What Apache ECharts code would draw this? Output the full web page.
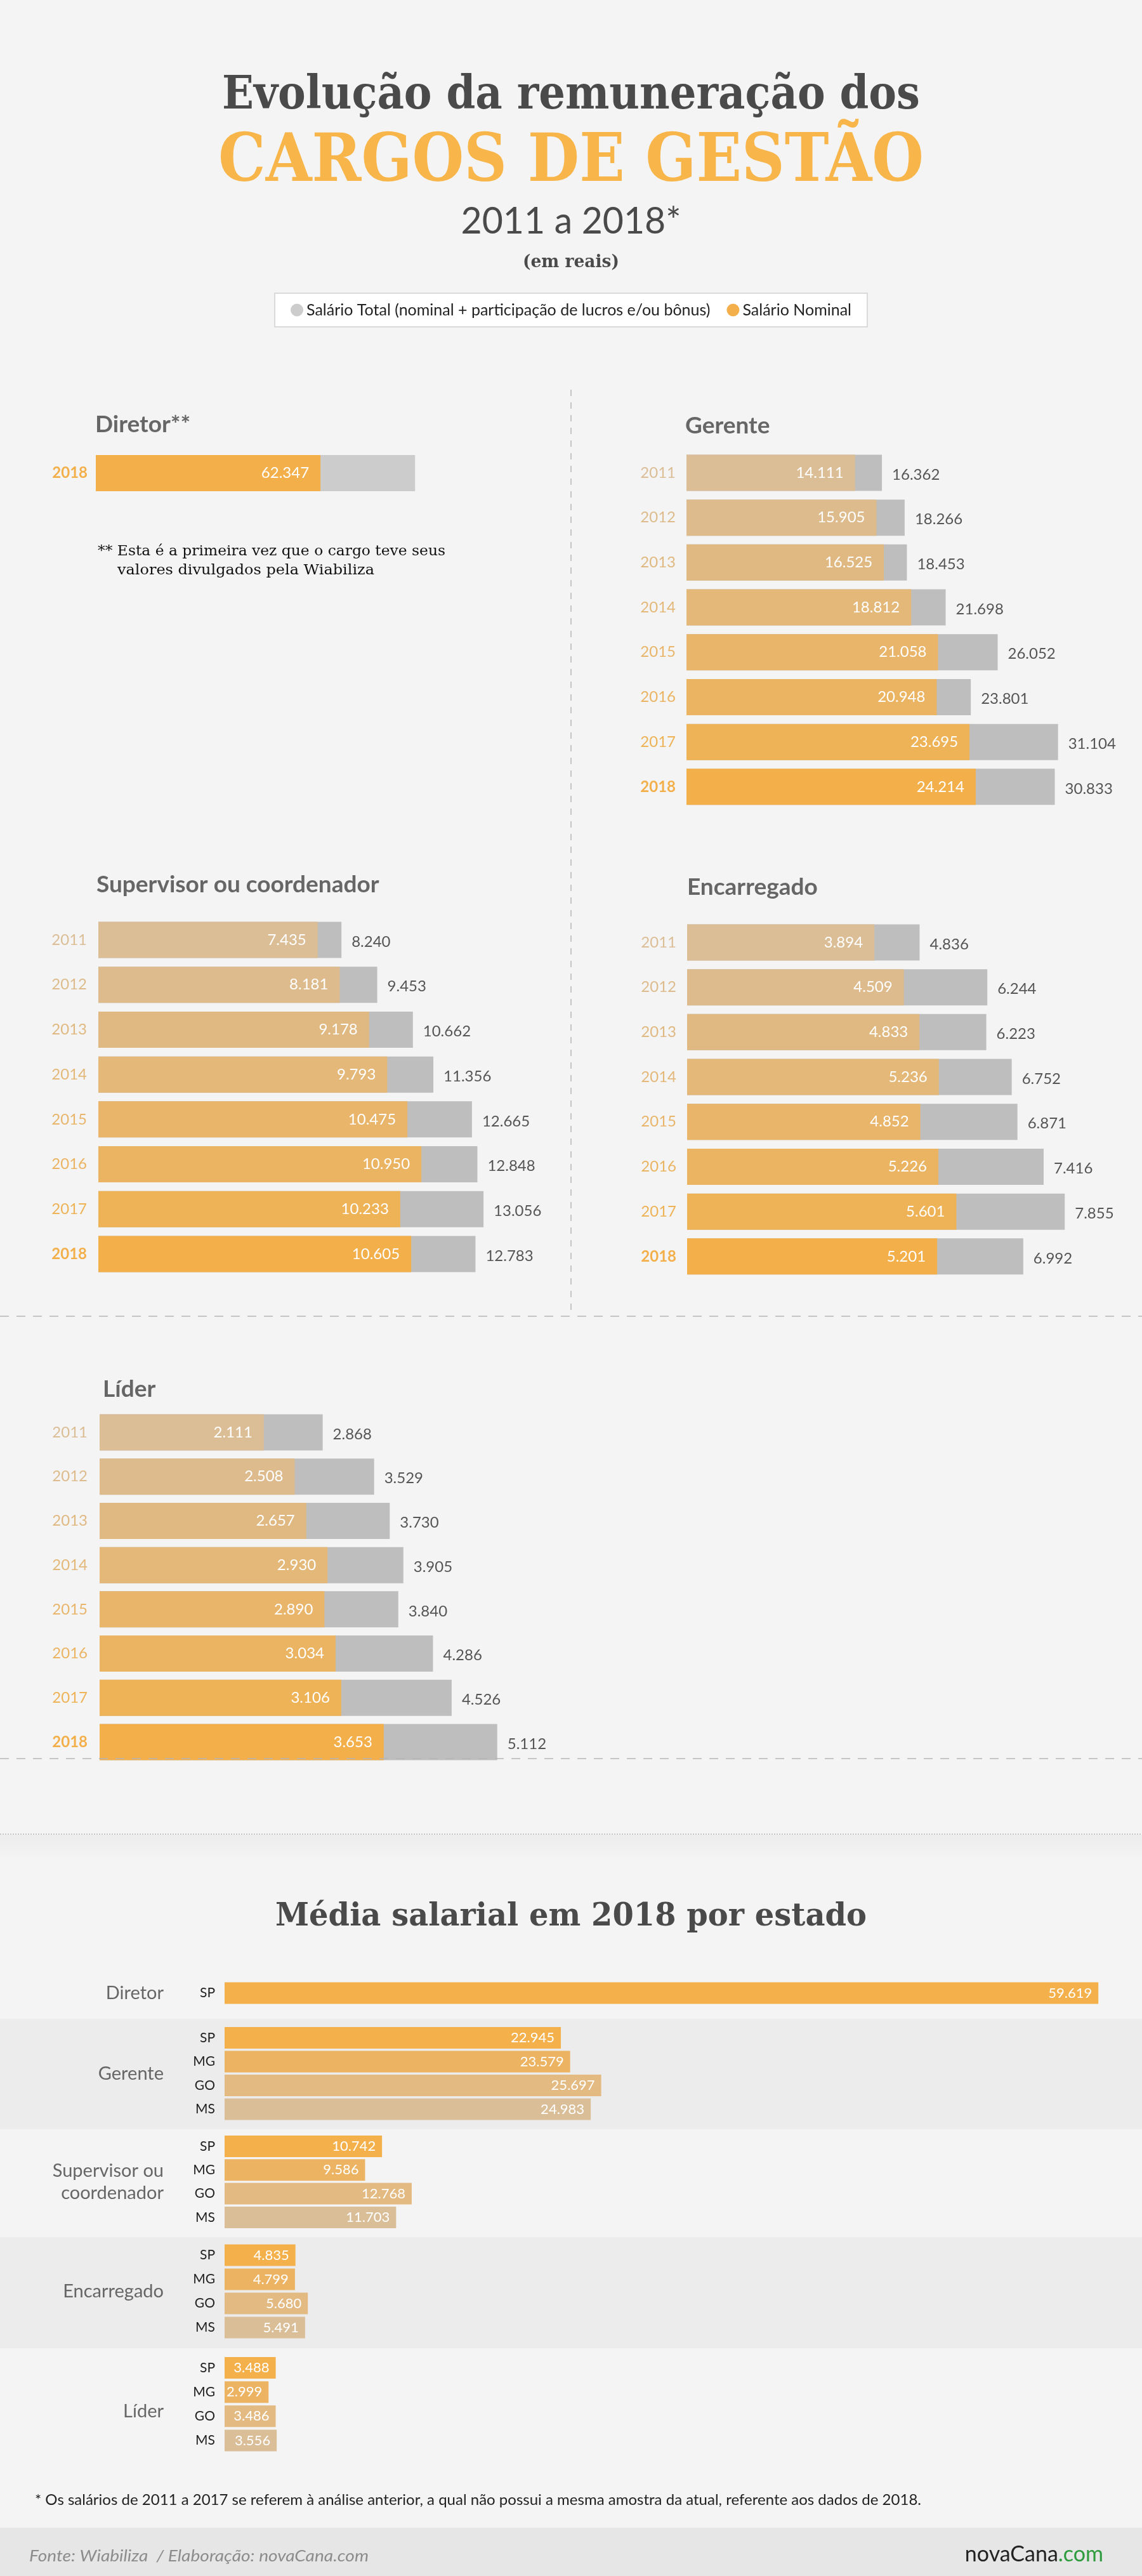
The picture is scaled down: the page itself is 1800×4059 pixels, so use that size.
<!DOCTYPE html>
<html><head><meta charset="utf-8">
<script src="https://cdn.jsdelivr.net/npm/echarts@6/dist/echarts.min.js"></script>
<style>html,body{margin:0;padding:0;background:#f4f4f4}#c{width:1800px;height:4059px}</style>
</head><body><div id="c"></div><script>
// ---------------- DATA ----------------
const years = ['2011','2012','2013','2014','2015','2016','2017','2018'];
const diretorYears = ['2018'];
const diretorNominal = [62347];
const diretorTotal = [88600]; // not labelled in the reference
const gerenteNominal = [14111,15905,16525,18812,21058,20948,23695,24214];
const gerenteTotal   = [16362,18266,18453,21698,26052,23801,31104,30833];
const supervisorNominal = [7435,8181,9178,9793,10475,10950,10233,10605];
const supervisorTotal   = [8240,9453,10662,11356,12665,12848,13056,12783];
const encarregadoNominal = [3894,4509,4833,5236,4852,5226,5601,5201];
const encarregadoTotal   = [4836,6244,6223,6752,6871,7416,7855,6992];
const liderNominal = [2111,2508,2657,2930,2890,3034,3106,3653];
const liderTotal   = [2868,3529,3730,3905,3840,4286,4526,5112];

const states = ['SP','MG','GO','MS'];
const estadoDiretor = [59619];
const estadoGerente = [22945,23579,25697,24983];
const estadoSupervisor = [10742,9586,12768,11703];
const estadoEncarregado = [4835,4799,5680,5491];
const estadoLider = [3488,2999,3486,3556];

const totalName = 'Salário Total (nominal + participação de lucros e/ou bônus)';
const nominalName = 'Salário Nominal';

// ---------------- STYLE ----------------
const yearColors = ['#DBBD96','#DDBB8C','#E0B982','#E3B879','#E8B56B','#EAB462','#EEB257','#F3AF4A'];
const stateColors = {SP:'#F4B04A', MG:'#ECB462', GO:'#E2BA82', MS:'#D9BE98'};
const SANS = 'Lato, "Open Sans", sans-serif';
const SLAB = '"DejaVu Serif", serif';
const fmt = v => String(Math.round(v)).replace(/\B(?=(\d{3})+(?!\d))/g, '.');

const mctx = document.createElement('canvas').getContext('2d');
function fit(text, font, target){ mctx.font = font; return target / mctx.measureText(text).width; }

const grids = [], xAxes = [], yAxes = [], series = [];
const yearRich = {};
years.forEach((y,i)=>{ yearRich['y'+y] = {color: yearColors[i], fontSize: 24, fontFamily: SANS, fontWeight: y==='2018' ? 'bold' : 'normal'}; });

function panel(cats, nominal, total, g, max, opts){
  const k = grids.length;
  grids.push({left:g.left, top:g.top, width:g.width, height:g.height, containLabel:false, outerBoundsMode:'none'});
  xAxes.push({type:'value', gridIndex:k, min:0, max:max, show:false});
  yAxes.push({type:'category', gridIndex:k, data:cats, inverse:true,
    axisLine:{show:false}, axisTick:{show:false}, splitLine:{show:false},
    axisLabel:{margin:g.margin, fontSize:24, fontFamily:SANS, formatter:v=>'{y'+v+'|'+v+'}', rich:yearRich}});
  series.push({type:'bar', name: totalName, xAxisIndex:k, yAxisIndex:k, barWidth:g.bar, barGap:'-100%',
    itemStyle:{color: opts.gray || '#BEBEBE'}, silent:true, animation:false,
    label:{show: !opts.noTotalLabel, position:'right', distance:16, color:'#555', fontSize:24, fontFamily:SANS, formatter:p=>fmt(p.value), offset:[0,3]},
    data: total});
  series.push({type:'bar', name: nominalName, xAxisIndex:k, yAxisIndex:k, barWidth:g.bar, barGap:'-100%',
    itemStyle:{color:'#F3AF4A'}, silent:true, animation:false,
    label:{show:true, position:'insideRight', distance:18, color:'#fff', fontSize:24, fontFamily:SANS, formatter:p=>fmt(p.value)},
    data: nominal.map((v,i)=>({value:v, itemStyle:{color: yearColors[years.indexOf(cats[i])]}}))});
}

panel(diretorYears, diretorNominal, diretorTotal, {left:151, top:710, width:568, height:71, bar:57, margin:13}, 100000, {gray:'#CCCCCC', noTotalLabel:true});
panel(years, gerenteNominal, gerenteTotal, {left:1082, top:709.6, width:659, height:565.6, bar:57, margin:17}, 35000, {});
panel(years, supervisorNominal, supervisorTotal, {left:155, top:1445.7, width:697.5, height:565.6, bar:57, margin:18}, 15000, {});
panel(years, encarregadoNominal, encarregadoTotal, {left:1083, top:1449.6, width:682, height:565.6, bar:57, margin:17}, 9000, {});
panel(years, liderNominal, liderTotal, {left:157, top:2222.2, width:735.6, height:557.6, bar:57, margin:19}, 6000, {});

function statePanel(vals, top, height){
  const k = grids.length;
  const cats = states.slice(0, vals.length);
  grids.push({left:354, top:top, width:1501.5, height:height, containLabel:false, outerBoundsMode:'none'});
  xAxes.push({type:'value', gridIndex:k, min:0, max:65000, show:false});
  yAxes.push({type:'category', gridIndex:k, data:cats, inverse:true,
    axisLine:{show:false}, axisTick:{show:false}, splitLine:{show:false},
    axisLabel:{margin:15, fontSize:21, color:'#222', fontFamily:SANS}});
  series.push({type:'bar', name:'Média salarial 2018', xAxisIndex:k, yAxisIndex:k, barWidth:34, silent:true, animation:false,
    label:{show:true, position:'insideRight', distance:10, color:'#fff', fontSize:22, fontFamily:SANS, formatter:p=>fmt(p.value)},
    data: vals.map((v,i)=>({value:v, itemStyle:{color: stateColors[cats[i]]}}))});
}
statePanel(estadoDiretor, 3121.6, 37.7);
statePanel(estadoGerente, 3192.2, 150);
statePanel(estadoSupervisor, 3363.3, 149.3);
statePanel(estadoEncarregado, 3534.5, 152);
statePanel(estadoLider, 3711.9, 152.7);

// ---------------- GRAPHICS (text & decoration) ----------------
function txt(text, x, y, font, fill, align, extra){
  return Object.assign({type:'text', x:x, y:y, silent:true,
    style:{text:text, font:font, fill:fill, align:align||'left', verticalAlign:'middle', textAlign:align||'left', textVerticalAlign:'middle'}}, extra||{});
}
function fitTxt(text, x, y, font, fill, target, align){
  return txt(text, x, y, font, fill, align || 'center', {scaleX: fit(text, font, target)});
}
const F1 = 'bold 72px ' + SLAB, F2 = 'bold 104px ' + SLAB, F3 = '58px ' + SANS, F4 = 'bold 28px ' + SLAB, F5 = 'bold 50px ' + SLAB;
const dash = '#B5B5B5';
const graphic = [
  {type:'rect', shape:{x:0,y:3181,width:1800,height:174}, style:{fill:'#ECECEC'}, z:-10, silent:true},
  {type:'rect', shape:{x:0,y:3525,width:1800,height:175}, style:{fill:'#ECECEC'}, z:-10, silent:true},
  {type:'rect', shape:{x:0,y:3983,width:1800,height:76}, style:{fill:'#E6E6E6'}, z:-10, silent:true},
  {type:'rect', shape:{x:0,y:2891,width:1800,height:42}, style:{fill:new echarts.graphic.LinearGradient(0,0,0,1,[{offset:0,color:'#EDEDED'},{offset:1,color:'#F4F4F4'}])}, z:-10, silent:true},
  {type:'line', shape:{x1:0,y1:2890,x2:1800,y2:2890}, style:{stroke:'#C8C8C8', lineWidth:2, lineDash:[2,2]}, silent:true},
  {type:'line', shape:{x1:900,y1:614,x2:900,y2:2072}, style:{stroke:dash, lineWidth:1.5, lineDash:[10,10]}, silent:true},
  {type:'line', shape:{x1:0,y1:2074,x2:1800,y2:2074}, style:{stroke:dash, lineWidth:1.5, lineDash:[14,12]}, silent:true},
  {type:'line', shape:{x1:0,y1:2771,x2:1800,y2:2771}, style:{stroke:dash, lineWidth:1.5, lineDash:[14,12]}, silent:true, z:100},

  fitTxt('Evolução da remuneração dos', 900, 152, F1, '#4A4A4A', 1100),
  fitTxt('CARGOS DE GESTÃO', 900, 258, F2, '#F7B54A', 1112),
  fitTxt('2011 a 2018*', 900, 349, F3, '#4A4A4A', 347),
  fitTxt('(em reais)', 900, 414, F4, '#4A4A4A', 152),
  fitTxt('Média salarial em 2018 por estado', 900, 3021, F5, '#4A4A4A', 932),

  txt('Diretor**', 150, 669, 'bold 37px ' + SANS, '#666'),
  txt('Gerente', 1080, 671, 'bold 37px ' + SANS, '#666'),
  txt('Supervisor ou coordenador', 152, 1394, 'bold 37px ' + SANS, '#666'),
  txt('Encarregado', 1083, 1398, 'bold 37px ' + SANS, '#666'),
  txt('Líder', 162, 2189, 'bold 37px ' + SANS, '#666'),

  fitTxt('** Esta é a primeira vez que o cargo teve seus', 154, 869, '22px ' + SLAB, '#111', 548, 'left'),
  fitTxt('valores divulgados pela Wiabiliza', 185, 899, '22px ' + SLAB, '#111', 405, 'left'),

  txt('Diretor', 258, 3141, '29px ' + SANS, '#666', 'right'),
  txt('Gerente', 258, 3268, '29px ' + SANS, '#666', 'right'),
  txt('Supervisor ou', 258, 3421, '29px ' + SANS, '#666', 'right'),
  txt('coordenador', 258, 3456, '29px ' + SANS, '#666', 'right'),
  txt('Encarregado', 258, 3611, '29px ' + SANS, '#666', 'right'),
  txt('Líder', 258, 3800, '29px ' + SANS, '#666', 'right'),

  fitTxt('* Os salários de 2011 a 2017 se referem à análise anterior, a qual não possui a mesma amostra da atual, referente aos dados de 2018.', 55, 3940, '23px ' + SANS, '#222', 1397, 'left'),
  fitTxt('Fonte: Wiabiliza  / Elaboração: novaCana.com', 46, 4028, 'italic 25px ' + SANS, '#8C8C8C', 535, 'left'),
  {type:'text', x:1739, y:4025, silent:true, style:{text:'{a|novaCana}{b|.com}', align:'right', textAlign:'right', verticalAlign:'middle', textVerticalAlign:'middle',
    rich:{a:{fontSize:34, fontFamily:SANS, fill:'#222', color:'#222'}, b:{fontSize:34, fontFamily:SANS, fill:'#2E9B3E', color:'#2E9B3E'}}}}
];

const chart = echarts.init(document.getElementById('c'), null, {renderer:'canvas'});
chart.setOption({
  backgroundColor:'#F4F4F4',
  animation:false,
  legend:{data:[{name:totalName, itemStyle:{color:'#CCCCCC'}}, {name:nominalName, itemStyle:{color:'#F3AF4A'}}],
    left:'center', top:462, icon:'circle', itemWidth:20, itemHeight:20, itemGap:26, padding:[14,25],
    backgroundColor:'#fff', borderColor:'#DADADA', borderWidth:2, selectedMode:false,
    textStyle:{fontSize:25, color:'#222', fontFamily:SANS}},
  grid: grids, xAxis: xAxes, yAxis: yAxes, series: series, graphic: graphic
});
</script></body></html>
